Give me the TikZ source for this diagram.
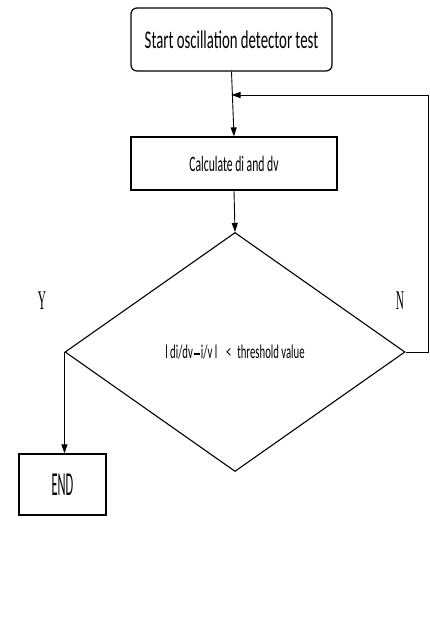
\documentclass[tikz,border=0pt]{standalone}
\usepackage{fontspec}
\setmainfont{Carlito}
\newfontfamily\condA[FakeStretch=0.58]{Carlito}
\newfontfamily\condB[FakeStretch=0.53]{Carlito}
\newfontfamily\condC[FakeStretch=0.55]{Carlito}
\newfontfamily\condD[FakeStretch=0.37]{Carlito}
\newfontfamily\ynfont[FakeStretch=0.42]{Liberation Serif}
\usetikzlibrary{shapes.geometric,arrows.meta}
\begin{document}
\begin{tikzpicture}[x=1pt,y=-1pt,
  box/.style={draw,line width=1.2pt,inner sep=0pt},
  arr/.style={-{Triangle[length=9pt,width=6pt]},line width=0.9pt},
  lab/.style={font=\fontsize{27}{30}\ynfont,inner sep=0pt}]
\useasboundingbox (0,0) rectangle (429,637);
\node[box,rounded corners=6pt,minimum width=201pt,minimum height=63pt] (start) at (231.5,39.5) {\fontsize{25.5}{28}\condA Start oscillation detector test};
\node[box,minimum width=206pt,minimum height=53pt] (calc) at (234,163.5) {\fontsize{22}{24}\condB Calculate di and dv};
\node[draw,diamond,line width=1.1pt,inner sep=0pt,minimum width=340pt,minimum height=239pt] (dia) at (235,352) {\fontsize{19.5}{24}\condC l di/dv\kern1pt\rule[3.5pt]{6pt}{1.6pt}\kern1pt i/v l\hspace{9pt}<\, threshold value};
\node[box,minimum width=87pt,minimum height=61pt] (end) at (62.5,484.5) {\fontsize{33.5}{36}\condD END};
\node[lab] (y) at (42,301) {Y};
\node[lab] (n) at (400,301) {N};
\coordinate (j) at (start.south |- 0,95);
\draw[arr] (start.south) -- (calc.north);
\draw[arr] (calc.south) -- (dia.north);
\draw[arr] (dia.east) -- ++(23,0) |- (j);
\draw[arr] (dia.west) -- (dia.west |- end.north);
\end{tikzpicture}
\end{document}
